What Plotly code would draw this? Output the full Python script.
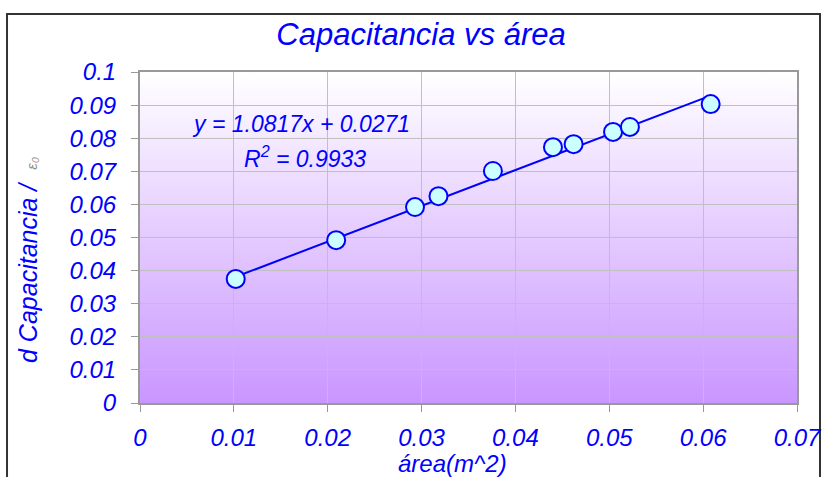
import base64
import plotly.graph_objects as go

area = [0.0102, 0.0209, 0.0293, 0.0318, 0.0376, 0.0440, 0.0462, 0.0504, 0.0522, 0.0608]
capacitancia = [0.0375, 0.0492, 0.0592, 0.0625, 0.0701, 0.0773, 0.0782, 0.0819, 0.0834, 0.0903]
slope = 1.0817
intercept = 0.0271
r2 = 0.9933
x_ticks = [0, 0.01, 0.02, 0.03, 0.04, 0.05, 0.06, 0.07]
y_ticks = [0, 0.01, 0.02, 0.03, 0.04, 0.05, 0.06, 0.07, 0.08, 0.09, 0.1]

blue = "#0000ff"
ff = "Liberation Sans, Arial, sans-serif"

fit_x = [min(area), max(area)]
fit_y = [slope * v + intercept for v in fit_x]

svg = ('<svg xmlns="http://www.w3.org/2000/svg" width="100" height="100" preserveAspectRatio="none">'
       '<defs><linearGradient id="g" x1="0" y1="0" x2="0" y2="1">'
       '<stop offset="0" stop-color="#ffffff"/><stop offset="1" stop-color="#c996ff"/>'
       '</linearGradient></defs><rect width="100" height="100" fill="url(#g)"/></svg>')
svg_uri = "data:image/svg+xml;base64," + base64.b64encode(svg.encode()).decode()

fig = go.Figure()
fig.add_trace(go.Scatter(x=fit_x, y=fit_y, mode="lines",
                         line=dict(color=blue, width=2), hoverinfo="skip", showlegend=False))
fig.add_trace(go.Scatter(x=area, y=capacitancia, mode="markers",
                         marker=dict(size=18, color="#ccffff", line=dict(color=blue, width=2)),
                         showlegend=False))

fig.add_layout_image(dict(source=svg_uri, xref="paper", yref="paper", x=0, y=1,
                          sizex=1, sizey=1, sizing="stretch", layer="below",
                          xanchor="left", yanchor="top"))

fig.add_shape(type="rect", xref="paper", yref="paper", x0=-0.2024, x1=1.035, y0=-0.3, y1=1.175,
              line=dict(color="#333333", width=2), fillcolor="rgba(0,0,0,0)", layer="below")

fig.add_annotation(x=0.0172, y=0.0843, xref="x", yref="y", showarrow=False,
                   text=f"y = {slope}x + {intercept}",
                   font=dict(size=23, color=blue, family=ff, style="italic"),
                   xanchor="center", yanchor="middle")
fig.add_annotation(x=0.0176, y=0.0742, xref="x", yref="y", showarrow=False,
                   text=f"R<sup>2</sup> = {r2}",
                   font=dict(size=23, color=blue, family=ff, style="italic"),
                   xanchor="center", yanchor="middle")

# y-axis title
fig.add_annotation(x=-0.1705, y=0.432, xref="paper", yref="paper", showarrow=False, textangle=-90,
                   text="d Capacitancia /&nbsp;&nbsp;<span style='font-size:15px;color:#909090'>ε₀</span>",
                   font=dict(size=25, color=blue, family=ff, style="italic"),
                   xanchor="center", yanchor="middle")
# x-axis title
fig.add_annotation(x=0.4749, y=-0.183, xref="paper", yref="paper", showarrow=False,
                   text="área(m^2)",
                   font=dict(size=24, color=blue, family=ff, style="italic"),
                   xanchor="center", yanchor="middle")

axis_common = dict(showgrid=True, gridcolor="#c0c0c0", gridwidth=1, zeroline=False,
                   showline=True, linecolor="#999999", linewidth=2, mirror=True,
                   ticks="outside", ticklen=7, tickcolor="#999999", tickwidth=1,
                   automargin=False, ticklabeloverflow="allow",
                   tickfont=dict(size=24, color=blue, family=ff, style="italic"))

fig.update_xaxes(range=[0, 0.07], tickvals=x_ticks, ticktext=[f"{v:g}" for v in x_ticks],
                 ticklabelstandoff=5, **axis_common)
fig.update_yaxes(range=[0, 0.1], tickvals=y_ticks, ticktext=[f"{v:g}" for v in y_ticks],
                 ticklabelstandoff=10, **axis_common)

fig.update_layout(
    width=823, height=477,
    margin=dict(l=140, r=26, t=72, b=74),
    paper_bgcolor="white", plot_bgcolor="rgba(0,0,0,0)",
    title=dict(text="Capacitancia vs área", x=0.5116, xanchor="center", xref="container",
               y=0.9287, yref="container", yanchor="middle",
               font=dict(size=31, color=blue, family=ff, style="italic")),
    font=dict(family=ff, color=blue),
)

fig.write_html("out.html", config={"displayModeBar": False},
               post_script="document.body.style.margin='0';document.body.style.overflow='hidden';")
